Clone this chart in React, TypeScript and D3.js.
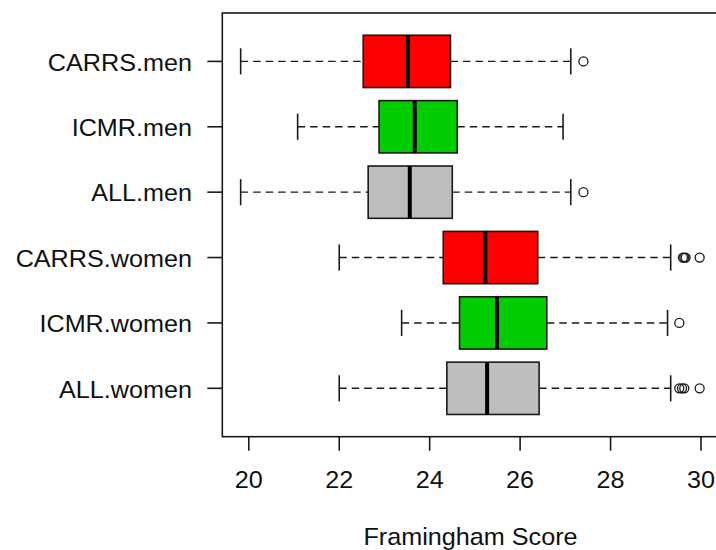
import React, { useEffect } from "react";
import * as d3 from "d3";

const groups = ["CARRS.men", "ICMR.men", "ALL.men", "CARRS.women", "ICMR.women", "ALL.women"];
const colors = ["#FF0000", "#00CD00", "#BEBEBE", "#FF0000", "#00CD00", "#BEBEBE"];
const whiskerLow = [19.82, 21.08, 19.82, 22.0, 23.38, 22.0];
const q1 = [22.53, 22.88, 22.64, 24.3, 24.66, 24.38];
const median = [23.52, 23.67, 23.56, 25.23, 25.49, 25.27];
const q3 = [24.46, 24.61, 24.5, 26.39, 26.59, 26.42];
const whiskerHigh = [27.12, 26.95, 27.12, 29.33, 29.26, 29.33];
const outliers = [
  [27.4],
  [],
  [27.4],
  [29.6, 29.63, 29.66, 29.97],
  [29.52],
  [29.52, 29.58, 29.63, 29.97],
];
const xTicks = [20, 22, 24, 26, 28, 30];
const xTitle = "Framingham Score";

const W = 716;
const H = 550;
const left = 222.3;
const right = 718;
const top = 13;
const bottom = 436.7;
const FONT = "'Liberation Sans', Arial, sans-serif";
const SX = 1.05;

export default function App() {
  useEffect(() => {
    document.body.style.margin = "0";
  }, []);

  const allVals = [...whiskerLow, ...whiskerHigh, ...outliers.flat()];
  const lo = d3.min(allVals) as number;
  const hi = d3.max(allVals) as number;
  const pad = (hi - lo) * 0.04;
  const x = d3.scaleLinear().domain([lo - pad, hi + pad]).range([left, right]);
  const n = groups.length;
  const y = d3.scaleLinear().domain([0.5 - n * 0.04, n + 0.5 + n * 0.04]).range([bottom, top]);
  const pos = (i: number) => n - i; // first group at top
  const boxH = y(0) - y(0.8);
  const stroke = "#1a1a1a";

  return (
    <svg width={W} height={H} style={{ display: "block" }} fontFamily={FONT}>
      <rect x={0} y={0} width={W} height={H} fill="#fff" />
      {groups.map((g, i) => {
        const cy = y(pos(i));
        return (
          <g key={g}>
            <line x1={x(whiskerLow[i])} x2={x(q1[i])} y1={cy} y2={cy} stroke={stroke} strokeWidth={1.4} strokeDasharray="7.5,5" />
            <line x1={x(q3[i])} x2={x(whiskerHigh[i])} y1={cy} y2={cy} stroke={stroke} strokeWidth={1.4} strokeDasharray="7.5,5" />
            <line x1={x(whiskerLow[i])} x2={x(whiskerLow[i])} y1={cy - boxH / 4} y2={cy + boxH / 4} stroke={stroke} strokeWidth={1.6} />
            <line x1={x(whiskerHigh[i])} x2={x(whiskerHigh[i])} y1={cy - boxH / 4} y2={cy + boxH / 4} stroke={stroke} strokeWidth={1.6} />
            <rect x={x(q1[i])} y={cy - boxH / 2} width={x(q3[i]) - x(q1[i])} height={boxH} fill={colors[i]} stroke={stroke} strokeWidth={1.6} />
            <line x1={x(median[i])} x2={x(median[i])} y1={cy - boxH / 2} y2={cy + boxH / 2} stroke="#000" strokeWidth={4} />
            {outliers[i].map((v, k) => (
              <circle key={k} cx={x(v)} cy={cy} r={4.5} fill="none" stroke={stroke} strokeWidth={1.3} />
            ))}
          </g>
        );
      })}
      <rect x={left} y={top} width={right - left} height={bottom - top} fill="none" stroke={stroke} strokeWidth={1.6} />
      {groups.map((g, i) => {
        const cy = y(pos(i));
        return (
          <g key={"yl" + g}>
            <line x1={left - 15} x2={left} y1={cy} y2={cy} stroke={stroke} strokeWidth={1.6} />
            <text transform={`translate(192,${cy + 1}) scale(${SX},1)`} textAnchor="end" dominantBaseline="central" fontSize={24} fill="#111">
              {g}
            </text>
          </g>
        );
      })}
      {xTicks.map((t) => (
        <g key={"xt" + t}>
          <line x1={x(t)} x2={x(t)} y1={bottom} y2={bottom + 14} stroke={stroke} strokeWidth={1.6} />
          <text transform={`translate(${x(t)},480) scale(${SX},1)`} textAnchor="middle" dominantBaseline="central" fontSize={24} fill="#111">
            {t}
          </text>
        </g>
      ))}
      <text transform={`translate(470.5,537) scale(${SX},1)`} textAnchor="middle" dominantBaseline="central" fontSize={24} fill="#111">
        {xTitle}
      </text>
    </svg>
  );
}
